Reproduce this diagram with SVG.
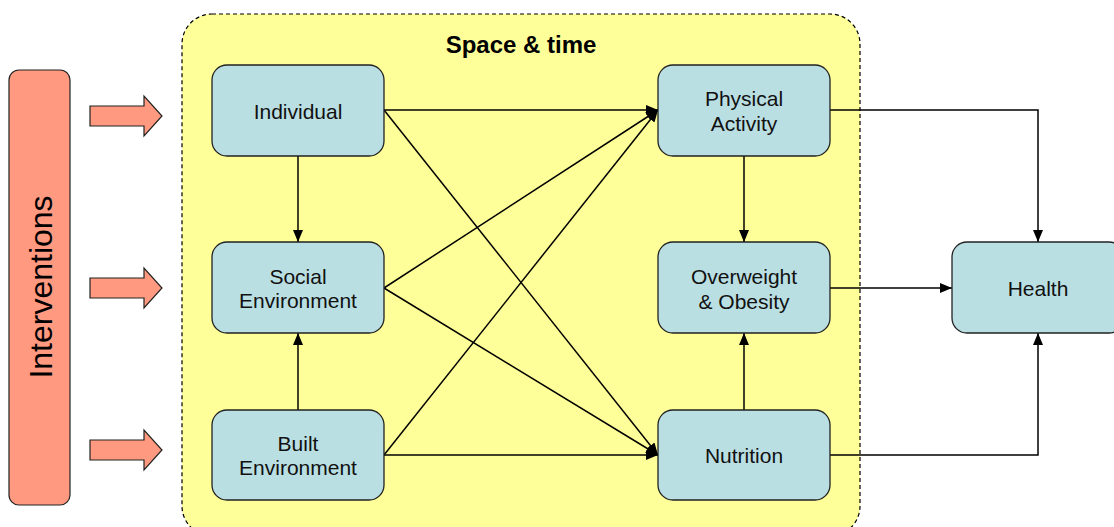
<svg xmlns="http://www.w3.org/2000/svg" width="1114" height="527" viewBox="0 0 1114 527">
<style>
.node{fill:#BADFE3;stroke:#222;stroke-width:1.3}
.lbl{font-family:"Liberation Sans",Arial,sans-serif;font-size:21px;fill:#111;text-anchor:middle}
.con{fill:none;stroke:#000;stroke-width:1.5}
.blk{fill:#FF9980;stroke:#222;stroke-width:1.2}
</style>
<defs>
<marker id="ah" viewBox="0 0 12 10" refX="12" refY="5" markerWidth="12" markerHeight="10" markerUnits="userSpaceOnUse" orient="auto">
<path d="M0,0 L12,5 L0,10 Z" fill="#000"/>
</marker>
</defs>
<rect width="1114" height="527" fill="#fff"/>
<g id="container">
<rect x="182" y="14" width="678" height="522" rx="30" fill="#FFFF99" stroke="#000" stroke-width="1.2" stroke-dasharray="4,3"/>
<text x="521" y="53" style="font-family:'Liberation Sans',Arial,sans-serif;font-size:24px;font-weight:bold;text-anchor:middle;fill:#000">Space &amp; time</text>
</g>
<g id="interventions">
<rect x="9" y="70" width="61" height="435" rx="10" class="blk"/>
<text transform="translate(52,287) rotate(-90)" style="font-family:'Liberation Sans',Arial,sans-serif;font-size:32px;text-anchor:middle;fill:#000">Interventions</text>
</g>
<g id="block-arrows">
<path class="blk" d="M90,106 H144 V96 L162,116 L144,136 V126 H90 Z"/>
<path class="blk" d="M90,278 H144 V268 L162,288 L144,308 V298 H90 Z"/>
<path class="blk" d="M90,440 H144 V430 L162,450 L144,470 V460 H90 Z"/>
</g>
<g id="connectors">
<path class="con" marker-end="url(#ah)" d="M298,156 V242"/>
<path class="con" marker-end="url(#ah)" d="M298,410 V333"/>
<path class="con" marker-end="url(#ah)" d="M384,110 H658"/>
<path class="con" marker-end="url(#ah)" d="M384,110 L658,455"/>
<path class="con" marker-end="url(#ah)" d="M384,288 L658,110"/>
<path class="con" marker-end="url(#ah)" d="M384,288 L658,455"/>
<path class="con" marker-end="url(#ah)" d="M384,455 L658,110"/>
<path class="con" marker-end="url(#ah)" d="M384,455 H658"/>
<path class="con" marker-end="url(#ah)" d="M744,156 V242"/>
<path class="con" marker-end="url(#ah)" d="M744,410 V333"/>
<path class="con" marker-end="url(#ah)" d="M830,110 H1038 V242"/>
<path class="con" marker-end="url(#ah)" d="M830,288 H952"/>
<path class="con" marker-end="url(#ah)" d="M830,455 H1038 V333"/>
</g>
<g id="individual">
<rect class="node" x="212" y="65" width="172" height="91" rx="15"/>
<text class="lbl" x="298" y="119">Individual</text>
</g>
<g id="social-environment">
<rect class="node" x="212" y="242" width="172" height="91" rx="15"/>
<text class="lbl" x="298" y="284">Social</text>
<text class="lbl" x="298" y="308">Environment</text>
</g>
<g id="built-environment">
<rect class="node" x="212" y="410" width="172" height="90" rx="15"/>
<text class="lbl" x="298" y="451">Built</text>
<text class="lbl" x="298" y="475">Environment</text>
</g>
<g id="physical-activity">
<rect class="node" x="658" y="65" width="172" height="91" rx="15"/>
<text class="lbl" x="744" y="106">Physical</text>
<text class="lbl" x="744" y="131">Activity</text>
</g>
<g id="overweight-obesity">
<rect class="node" x="658" y="242" width="172" height="91" rx="15"/>
<text class="lbl" x="744" y="284">Overweight</text>
<text class="lbl" x="744" y="309">&amp; Obesity</text>
</g>
<g id="nutrition">
<rect class="node" x="658" y="410" width="172" height="90" rx="15"/>
<text class="lbl" x="744" y="463">Nutrition</text>
</g>
<g id="health">
<rect class="node" x="952" y="242" width="172" height="91" rx="15"/>
<text class="lbl" x="1038" y="296">Health</text>
</g>
</svg>
